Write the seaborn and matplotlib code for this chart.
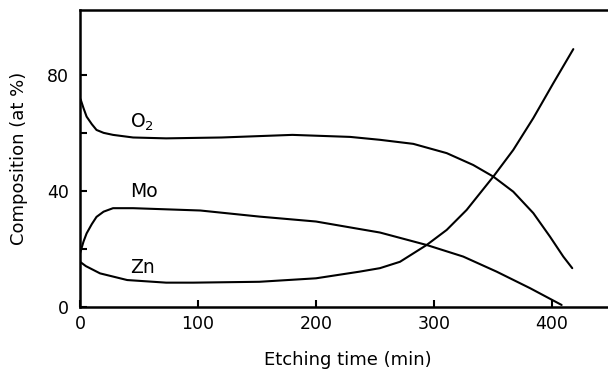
import matplotlib
matplotlib.use("Agg")
import matplotlib.pyplot as plt
import seaborn as sns
import pandas as pd

# Depth profile: composition vs etching time
o2_time = [0.5, 3, 5.6, 10, 14, 20, 28, 45, 73, 120, 180, 229, 254.2, 282.5,
           310.8, 333.3, 350.3, 367.2, 384.2, 398.3, 409.6, 417.2]
o2_comp = [71.6, 68.5, 65.6, 63.0, 61.0, 60.0, 59.3, 58.4, 58.1, 58.4, 59.3, 58.6,
           57.6, 56.2, 53.0, 48.9, 44.9, 39.7, 32.3, 24.2, 17.3, 13.3]

mo_time = [0, 3, 5.6, 10, 14, 20, 28, 45, 102, 152, 200, 237, 254.2, 293.8,
           324.8, 353.1, 381.4, 408.2]
mo_comp = [18.4, 22.5, 25.3, 28.5, 31.0, 32.8, 34.0, 34.0, 33.2, 31.1, 29.4, 26.8,
           25.6, 21.3, 17.3, 12.1, 6.4, 0.6]

zn_time = [0, 5, 17, 40, 73, 96, 152, 200, 237, 254.2, 271.2, 293.8, 310.8,
           327.7, 350.3, 367.2, 384.2, 401.1, 418.1]
zn_comp = [15.5, 14.0, 11.5, 9.2, 8.3, 8.3, 8.6, 9.8, 12.1, 13.3, 15.5, 21.3, 26.5,
           33.4, 44.9, 54.1, 65.1, 77.1, 88.9]

x_ticks = [0, 100, 200, 300, 400]
y_ticks = [0, 20, 40, 60, 80]
y_tick_labels = ["0", "", "40", "", "80"]

frames = []
for name, t, c in [("O2", o2_time, o2_comp), ("Mo", mo_time, mo_comp), ("Zn", zn_time, zn_comp)]:
    frames.append(pd.DataFrame({"time": t, "comp": c, "element": name}))
df = pd.concat(frames, ignore_index=True)

sns.set_style("ticks")
plt.rcParams["font.family"] = ["DejaVu Sans"]
plt.rcParams["mathtext.default"] = "regular"
plt.rcParams["text.color"] = "black"
plt.rcParams["axes.labelcolor"] = "black"

fig = plt.figure(figsize=(6.08, 3.69), dpi=100)
ax = fig.add_axes([80 / 608, (369 - 306.7) / 369, 528 / 608, 296.7 / 369])

sns.lineplot(data=df, x="time", y="comp", units="element", estimator=None,
             sort=False, color="black", linewidth=1.5, ax=ax)

ax.set_xlim(0, 447.5)
ax.set_ylim(0, 102.4)
ax.set_xticks(x_ticks)
ax.set_yticks(y_ticks)
ax.set_yticklabels(y_tick_labels)

for side in ["left", "bottom", "top"]:
    ax.spines[side].set_linewidth(1.8)
    ax.spines[side].set_color("black")
ax.spines["right"].set_visible(False)

ax.tick_params(axis="both", direction="in", length=5, width=1.5,
               labelsize=12.5, colors="black", pad=6)
ax.tick_params(axis="y", pad=8)

ax.set_xlabel("Etching time (min)", fontsize=13, color="black")
ax.set_ylabel("Composition (at %)", fontsize=13, color="black")
ax.xaxis.set_label_coords(0.508, -0.150)
ax.yaxis.set_label_coords(-0.098, 0.5)

ax.text(42.4, 63.5, "O$_2$", fontsize=13.5, ha="left", va="center", color="black")
ax.text(42.4, 39.6, "Mo", fontsize=13.5, ha="left", va="center", color="black")
ax.text(42.4, 13.7, "Zn", fontsize=13.5, ha="left", va="center", color="black")

fig.savefig("out.png", dpi=100)
